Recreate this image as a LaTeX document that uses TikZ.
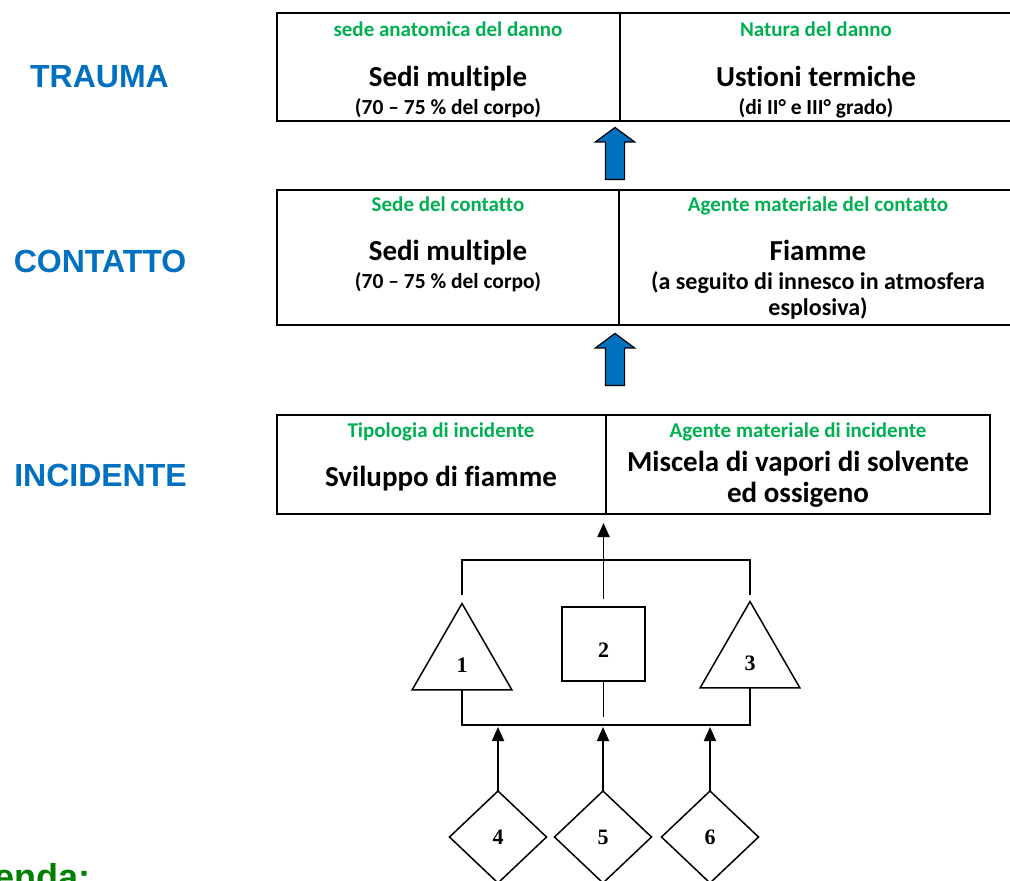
\documentclass[tikz,border=0pt]{standalone}
\usepackage{fontspec}
\setmainfont{Carlito}[Ligatures={TeX,NoCommon}]
\newfontfamily\labelfont{Liberation Sans}
\newfontfamily\numfont{Liberation Serif}
\usetikzlibrary{arrows.meta, shapes.geometric, shapes.arrows}
\definecolor{myblue}{RGB}{0,112,192}
\definecolor{mygreen}{RGB}{0,176,80}
\definecolor{legendgreen}{RGB}{0,128,0}
\tikzstyle{cell} = [draw=black, line width=1.5, outer sep=0, inner sep=0]
\tikzstyle{head} = [anchor=base, inner sep=0, text=mygreen,
    font=\bfseries\fontsize{21}{25}\selectfont]
\tikzstyle{big} = [anchor=base, inner sep=0,
    font=\bfseries\fontsize{29}{35}\selectfont]
\tikzstyle{small} = [anchor=base, inner sep=0,
    font=\bfseries\fontsize{21.5}{26}\selectfont]
\tikzstyle{small2} = [anchor=base, inner sep=0,
    font=\bfseries\fontsize{24}{29}\selectfont]
\tikzstyle{level} = [anchor=base, inner sep=0, text=myblue,
    font=\labelfont\bfseries\fontsize{32}{38}\selectfont]
\tikzstyle{uparrow} = [draw=black, line width=1.2, fill=myblue,
    single arrow, shape border rotate=90, inner sep=9,
    minimum height=52, minimum width=38,
    single arrow head extend=10, single arrow tip angle=107]
\tikzstyle{tri} = [draw=black, line width=1.5, outer sep=0, inner sep=0,
    regular polygon, regular polygon sides=3, minimum size=115,
    text height=23, text depth=0,
    font=\numfont\bfseries\fontsize{22}{26}\selectfont]
\tikzstyle{box} = [draw=black, line width=1.5, outer sep=0, inner sep=0,
    minimum width=83, minimum height=74, text height=27, text depth=0,
    font=\numfont\bfseries\fontsize{22}{26}\selectfont]
\tikzstyle{dia} = [draw=black, line width=1.5, outer sep=0, inner sep=0,
    diamond, minimum width=97, minimum height=92,
    font=\numfont\bfseries\fontsize{22}{26}\selectfont]
\tikzstyle{link} = [line width=1.6]
\tikzstyle{linkarrow} = [line width=1.8, -{Triangle[length=14,width=12]}]

\begin{document}
\begin{tikzpicture}[x=1pt, y=-1pt]
\useasboundingbox (0,0) rectangle (1010,881);
\clip (0,0) rectangle (1010,881);

%%% levels
\node[level] (trauma) at (99.5,87) {TRAUMA};
\node[level] (contatto) at (100,272) {CONTATTO};
\node[level] (incidente) at (100.5,486) {INCIDENTE};

%%% trauma
\node[cell, minimum width=343, minimum height=108] (tl) at (448.5,67) {};
\node[cell, minimum width=398, minimum height=108] (tr) at (819,67) {};
\node[head] (tlh) at (448,36) {sede anatomica del danno};
\node[big] (tlm) at (448,86) {Sedi multiple};
\node[small] (tls) at (448,114) {(70 -- 75 \% del corpo)};
\node[head] (trh) at (816,36) {Natura del danno};
\node[big] (trm) at (816,86) {Ustioni termiche};
\node[small] (trs) at (816,114) {(di II° e III° grado)};

\node[uparrow] (up1) at (615,157) {};

%%% contatto
\node[cell, minimum width=342, minimum height=135] (ml) at (448,257.5) {};
\node[cell, minimum width=399, minimum height=135] (mr) at (818.5,257.5) {};
\node[head] (mlh) at (448,211) {Sede del contatto};
\node[big] (mlm) at (448,260) {Sedi multiple};
\node[small] (mls) at (448,288) {(70 -- 75 \% del corpo)};
\node[head] (mrh) at (818,211) {Agente materiale del contatto};
\node[big] (mrm) at (818,260) {Fiamme};
\node[small2] (mrs) at (818,289) {(a seguito di innesco in atmosfera};
\node[small2] (mrt) at (818,315) {esplosiva)};

\node[uparrow] (up2) at (615,363) {};

%%% incidente
\node[cell, minimum width=329, minimum height=99] (bl) at (441.5,464.5) {};
\node[cell, minimum width=384, minimum height=99] (br) at (798,464.5) {};
\node[head] (blh) at (441,437) {Tipologia di incidente};
\node[big] (blm) at (441,486) {Sviluppo di fiamme};
\node[head] (brh) at (798,437) {Agente materiale di incidente};
\node[big] (brm) at (798,471) {Miscela di vapori di solvente};
\node[big] (brn) at (798,502) {ed ossigeno};

%%% causes
\node[tri] (t1) at (462,661) {1};
\node[box] (n2) at (603.5,644) {2};
\node[tri] (t3) at (750,659) {3};
\coordinate (topbar) at (603.5,560);
\coordinate (botbar) at (603.5,725);
\draw[link] ([yshift=9]t1.corner 1) |- (topbar) -| ([yshift=7]t3.corner 1);
\draw[linkarrow, shorten <=8, shorten >=9] (n2.north) -- (n2.north |- bl.south);
\draw[link] (t1.south) |- (botbar) -| (t3.south);
\draw[link, shorten >=8] (n2.south) -- (n2.south |- botbar);

\node[dia] (d4) at (498,837) {4};
\node[dia] (d5) at (603,837) {5};
\node[dia] (d6) at (710,837) {6};
\foreach \d in {d4,d5,d6}
  \draw[linkarrow, shorten >=2] (\d.north) -- (\d.north |- botbar);

\node[anchor=base west, inner sep=0, text=legendgreen,
  font=\labelfont\bfseries\fontsize{36}{42}\selectfont] (legenda) at (-70,889) {Legenda:};
\end{tikzpicture}
\end{document}
